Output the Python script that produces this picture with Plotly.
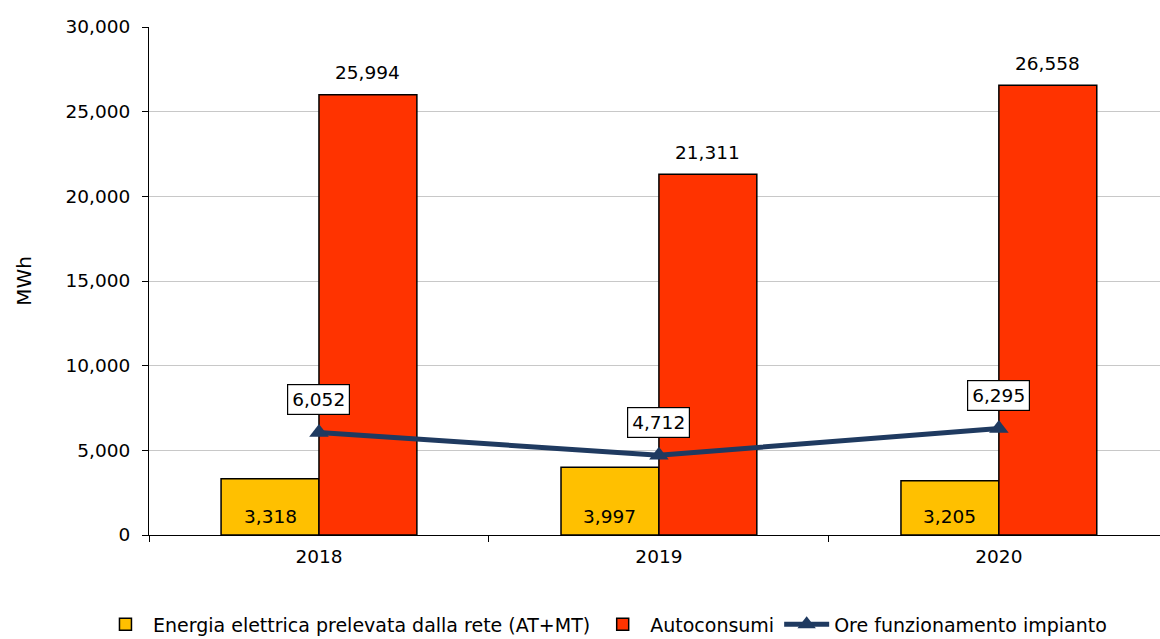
import plotly.graph_objects as go

years = ["2018", "2019", "2020"]
energia_rete = [3318, 3997, 3205]
autoconsumi = [25994, 21311, 26558]
ore_funzionamento = [6052, 4712, 6295]

FONT = "DejaVu Sans"
YELLOW = "#FFC000"
RED = "#FF3300"
NAVY = "#1F3A60"
FS = 18.5

fig = go.Figure()

fig.add_trace(go.Bar(
    x=years, y=energia_rete, name="Energia elettrica prelevata dalla rete (AT+MT)",
    marker=dict(color=YELLOW, line=dict(color="black", width=1.5)),
))
fig.add_trace(go.Bar(
    x=years, y=autoconsumi, name="Autoconsumi",
    marker=dict(color=RED, line=dict(color="black", width=1.5)),
))
fig.add_trace(go.Scatter(
    x=years, y=ore_funzionamento, name="Ore funzionamento impianto",
    mode="lines+markers",
    line=dict(color=NAVY, width=5),
    marker=dict(symbol="triangle-up", size=17, color=NAVY),
))

annotations = []
half = 0.144
for i, (a, b, c) in enumerate(zip(energia_rete, autoconsumi, ore_funzionamento)):
    annotations.append(dict(x=i - half, y=0, text=f"{a:,}", showarrow=False,
                            yanchor="middle", yshift=19,
                            font=dict(family=FONT, size=FS, color="black")))
    annotations.append(dict(x=i + half, y=b, text=f"{b:,}", showarrow=False,
                            yanchor="middle", yshift=22,
                            font=dict(family=FONT, size=FS, color="black")))
    annotations.append(dict(x=i, y=c, text=f"{c:,}", showarrow=False,
                            yanchor="middle", yshift=33,
                            bgcolor="white", bordercolor="black", borderwidth=1.2,
                            borderpad=4,
                            font=dict(family=FONT, size=FS, color="black")))

fig.update_layout(
    width=1160, height=639,
    margin=dict(l=149, r=0, t=27, b=104, autoexpand=False),
    paper_bgcolor="white", plot_bgcolor="white",
    barmode="group", bargap=0.424, bargroupgap=0,
    font=dict(family=FONT, size=FS, color="black"),
    showlegend=True,
    legend=dict(orientation="h", x=0.451, xanchor="center", y=-0.176, yanchor="middle",
                font=dict(family=FONT, size=19, color="black"),
                itemwidth=45, tracegroupgap=0),
    annotations=annotations,
)

fig.update_xaxes(
    type="category", range=[-0.5, 2.474],
    showline=True, linecolor="black", linewidth=1,
    ticks="outside", tickson="boundaries", ticklen=6, tickcolor="black",
    tickfont=dict(family=FONT, size=FS),
    ticklabelstandoff=5,
    showgrid=False,
)
fig.update_yaxes(
    range=[0, 30000], dtick=5000, tickformat=",d",
    showline=True, linecolor="black", linewidth=1,
    ticks="outside", ticklen=6, tickcolor="black",
    showgrid=True, gridcolor="#C8C8C8", gridwidth=1,
    zeroline=False,
    tickfont=dict(family=FONT, size=FS),
    ticklabelstandoff=8,
    title=dict(text="MWh", font=dict(family=FONT, size=20), standoff=28),
)

fig.write_html("out.html")
